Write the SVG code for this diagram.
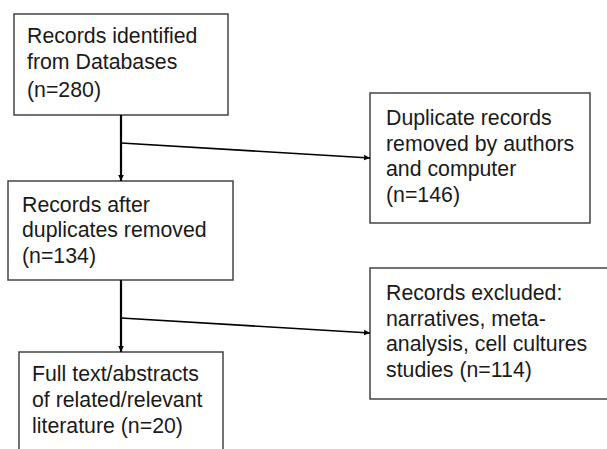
<svg xmlns="http://www.w3.org/2000/svg" width="607" height="449" viewBox="0 0 607 449">
<style>
.box{fill:#fff;stroke:#444;stroke-width:1.5}
.t{font-family:"Liberation Sans",Arial,sans-serif;font-size:21.3px;fill:#1a1a1a}
.v{stroke:#000;stroke-width:2.2;fill:none}
.s{stroke:#000;stroke-width:1.6;fill:none}
</style>
<defs>
<marker id="ah" markerWidth="8" markerHeight="8" refX="6" refY="4" orient="auto" markerUnits="userSpaceOnUse">
<path d="M0,1.2 L6,4 L0,6.8 Z" fill="#000"/>
</marker>
</defs>
<rect width="607" height="449" fill="#fff"/>
<g id="n1"><rect class="box" x="14" y="14" width="214" height="101"/>
<text class="t" x="27" y="43">Records identified</text>
<text class="t" x="27" y="69">from Databases</text>
<text class="t" x="27" y="97">(n=280)</text></g>
<g id="n2"><rect class="box" x="370" y="93" width="220" height="130"/>
<text class="t" x="386" y="125">Duplicate records</text>
<text class="t" x="386" y="151">removed by authors</text>
<text class="t" x="386" y="176">and computer</text>
<text class="t" x="386" y="202">(n=146)</text></g>
<g id="n3"><rect class="box" x="8" y="181" width="225" height="99"/>
<text class="t" x="22" y="212">Records after</text>
<text class="t" x="22" y="237">duplicates removed</text>
<text class="t" x="22" y="263">(n=134)</text></g>
<g id="n4"><rect class="box" x="370" y="268" width="250" height="131"/>
<text class="t" x="386" y="300">Records excluded:</text>
<text class="t" x="386" y="326">narratives, meta-</text>
<text class="t" x="386" y="351">analysis, cell cultures</text>
<text class="t" x="386" y="377">studies (n=114)</text></g>
<g id="n5"><rect class="box" x="19" y="352" width="204" height="120"/>
<text class="t" x="32" y="381">Full text/abstracts</text>
<text class="t" x="32" y="407">of related/relevant</text>
<text class="t" x="32" y="433">literature (n=20)</text></g>
<g id="connectors">
<line class="v" x1="121" y1="115" x2="121" y2="181" marker-end="url(#ah)"/>
<line class="s" x1="121" y1="143" x2="370" y2="158" marker-end="url(#ah)"/>
<line class="v" x1="121" y1="280" x2="121" y2="352" marker-end="url(#ah)"/>
<line class="s" x1="121" y1="318" x2="370" y2="333" marker-end="url(#ah)"/>
</g>
</svg>
